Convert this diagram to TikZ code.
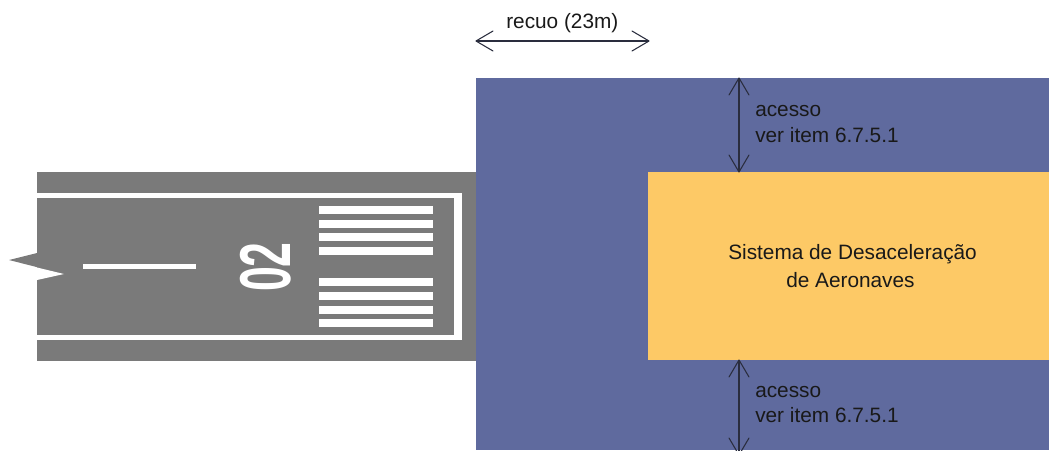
\documentclass[tikz,border=0pt]{standalone}
\usepackage{fontspec}
\setmainfont{Liberation Sans}
\usepackage{xcolor}
\usetikzlibrary{arrows.meta}
\definecolor{pista}{HTML}{7A7A7A}
\definecolor{recuo}{HTML}{5F6A9E}
\definecolor{sistema}{HTML}{FDC966}
\definecolor{cota}{HTML}{2A2D3E}
\pgfdeclarearrow{
	name=Cotatip,
	setup code={\pgfarrowssettipend{0pt}\pgfarrowssetlineend{-0.5pt}\pgfarrowssetvisualbackend{-0.5pt}\pgfarrowssetbackend{-12.75pt}},
	drawing code={\pgfsetroundjoin\pgfsetroundcap
		\pgfpathmoveto{\pgfqpoint{-12.75pt}{7.5pt}}
		\pgfpathlineto{\pgfqpoint{0pt}{0pt}}
		\pgfpathlineto{\pgfqpoint{-12.75pt}{-7.5pt}}
		\pgfusepathqstroke},
}
\tikzset{
	cotaline/.style={Cotatip-Cotatip, line width=0.8pt, cota},
	rotulo/.style={anchor=base west, inner sep=0pt, font=\fontsize{15.6}{19}\selectfont, text=black!90},
}

\begin{document}
\begin{tikzpicture}[x=0.75pt, y=-0.75pt]
		 	\useasboundingbox (0, 0) rectangle (1049, 450);
		 	% areas
		 	\fill[recuo](476, 78) rectangle (1049, 450);
		 	\fill[sistema](648, 172) rectangle (1049, 360);
		 	\fill[pista](37, 172) rectangle (476, 361);
		 	\fill[pista](37, 253) -- (9, 260) -- (64, 274) -- (37, 280) -- cycle;
		 	\fill[white](37, 280) -- (64, 274) -- (37, 267.5) -- cycle;
		 	% markings
		 	\fill[white](37, 193) rectangle (462, 198);
		 	\fill[white](37, 335) rectangle (462, 340);
		 	\fill[white](454, 193) rectangle (462, 340);
		 	\fill[white](83, 264) rectangle (196, 269);
		 	\foreach \y in {206, 220, 233, 247, 278, 292, 306, 319}
		 		\fill[white](319, \y) rectangle (433, \y+8);
		 	\node (numero) at (266, 267) [rotate=90, xscale=0.62, inner sep=0pt, text=white, font=\fontsize{54}{54}\selectfont\bfseries] {02};
		 	% dimensions
		 	\coordinate (recuoA) at (476, 41);
		 	\coordinate (recuoB) at (649, 41);
		 	\coordinate (topoA) at (739, 78);
		 	\coordinate (topoB) at (739, 172);
		 	\coordinate (baseA) at (739, 360);
		 	\coordinate (baseB) at (739, 455);
		 	\draw[cotaline](recuoA) to (recuoB);
		 	\draw[cotaline](topoA) to (topoB);
		 	\draw[cotaline](baseA) to (baseB);
		 	% labels
		 	\node (recuoText) at (506, 28) [rotulo] {recuo (23m)};
		 	\node (topoText) at (755, 116) [rotulo] {acesso};
		 	\node (topoItem) at (755, 142) [rotulo] {ver item 6.7.5.1};
		 	\node (baseText) at (755, 397) [rotulo] {acesso};
		 	\node (baseItem) at (755, 422) [rotulo] {ver item 6.7.5.1};
		 	\node (sistemaText) at (728, 259) [rotulo] {Sistema de Desaceleração};
		 	\node (aeronavesText) at (786, 287) [rotulo] {de Aeronaves};
		\end{tikzpicture}
\end{document}
